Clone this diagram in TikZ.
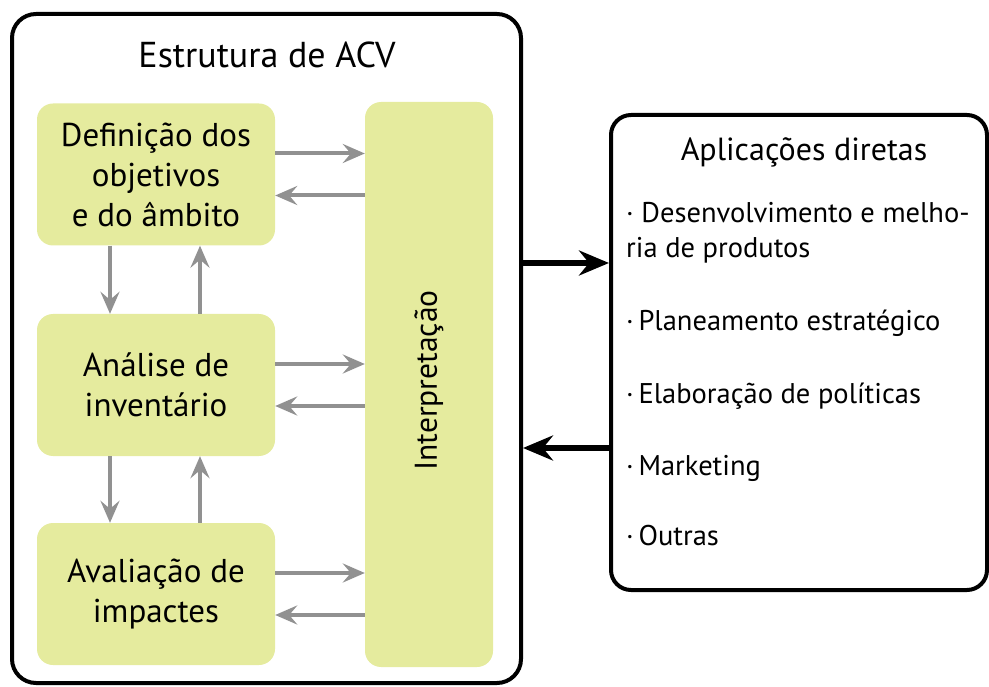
\documentclass[tikz,border=0pt]{standalone}
\usepackage{fontspec}
\setmainfont{PT Sans}
\usepackage{tikz}
\usetikzlibrary{arrows.meta}
\usetikzlibrary{calc}
\definecolor{stagegreen}{RGB}{229,235,158}
\definecolor{flowgray}{RGB}{145,145,145}
\tikzstyle{frame}=[draw,line width=4pt,rounded corners=24pt]
\tikzstyle{stage}=[fill=stagegreen,rounded corners=16pt,minimum width=238pt,minimum height=142pt,align=center,font=\fontsize{33}{40}\selectfont]
\tikzstyle{item}=[anchor=base west,inner sep=0pt,font=\fontsize{28.5}{34}\selectfont]
\tikzstyle{fb}=[line width=4pt,draw=flowgray,-{Stealth[length=22pt,width=19pt,inset=8pt]}]
\tikzstyle{link}=[line width=5.5pt,-{Stealth[length=30pt,width=25pt,inset=10pt]}]
\begin{document}
\begin{tikzpicture}[x=1pt,y=-1pt]
	\useasboundingbox (0,0) rectangle (989,687);
	% outer frame and its stages
	\node[frame,minimum width=509pt,minimum height=669pt] (acv) at (266.5,348.5) {};
	\node[font=\fontsize{36}{40}\selectfont] (acvtitle) at (267,55) {Estrutura de ACV};
	\node[stage] (def)  at (156,174.5) {Definição dos\\objetivos\\e do âmbito};
	\node[stage] (inv)  at (156,385)   {Análise de\\inventário};
	\node[stage] (aval) at (156,594)   {Avaliação de\\impactes};
	\node[stage,minimum width=128pt,minimum height=565pt] (interp) at (429,384.5) {};
	\node[rotate=90,font=\fontsize{31.5}{36}\selectfont] (interptxt) at ([yshift=4pt]interp.center) {Interpretação};
	\foreach \n in {def,inv,aval} {
		\draw[fb] ([yshift=21pt]\n.east) -- ([yshift=21pt]\n.east -| interp.west);
		\draw[fb] ([yshift=-21pt]\n.east -| interp.west) -- ([yshift=-21pt]\n.east);
	}
	\draw[fb] ([xshift=-46pt]def.south) -- ([xshift=-46pt]inv.north);
	\draw[fb] ([xshift=44pt]inv.north) -- ([xshift=44pt]def.south);
	\draw[fb] ([xshift=-46pt]inv.south) -- ([xshift=-46pt]aval.north);
	\draw[fb] ([xshift=44pt]aval.north) -- ([xshift=44pt]inv.south);
	% applications
	\node[frame,rounded corners=20pt,minimum width=376pt,minimum height=475pt] (apl) at (799,352.5) {};
	\node[font=\fontsize{32}{36}\selectfont] (apltitle) at (804,152) {Aplicações diretas};
	\foreach \y/\t [count=\i] in {223/{·~Desenvolvimento e melho-},258/{ria de produtos},331/{·\,Planeamento estratégico},403/{·\,Elaboração de políticas},475/{·\,Marketing},545/{·\,Outras}}
		\node[item] (apl-\i) at (626,\y) {\t};
	\draw[link] (acv.east |- 0,263) -- (apl.west |- 0,263);
	\draw[link] (apl.west |- 0,448) -- (acv.east |- 0,448);
\end{tikzpicture}
\end{document}
